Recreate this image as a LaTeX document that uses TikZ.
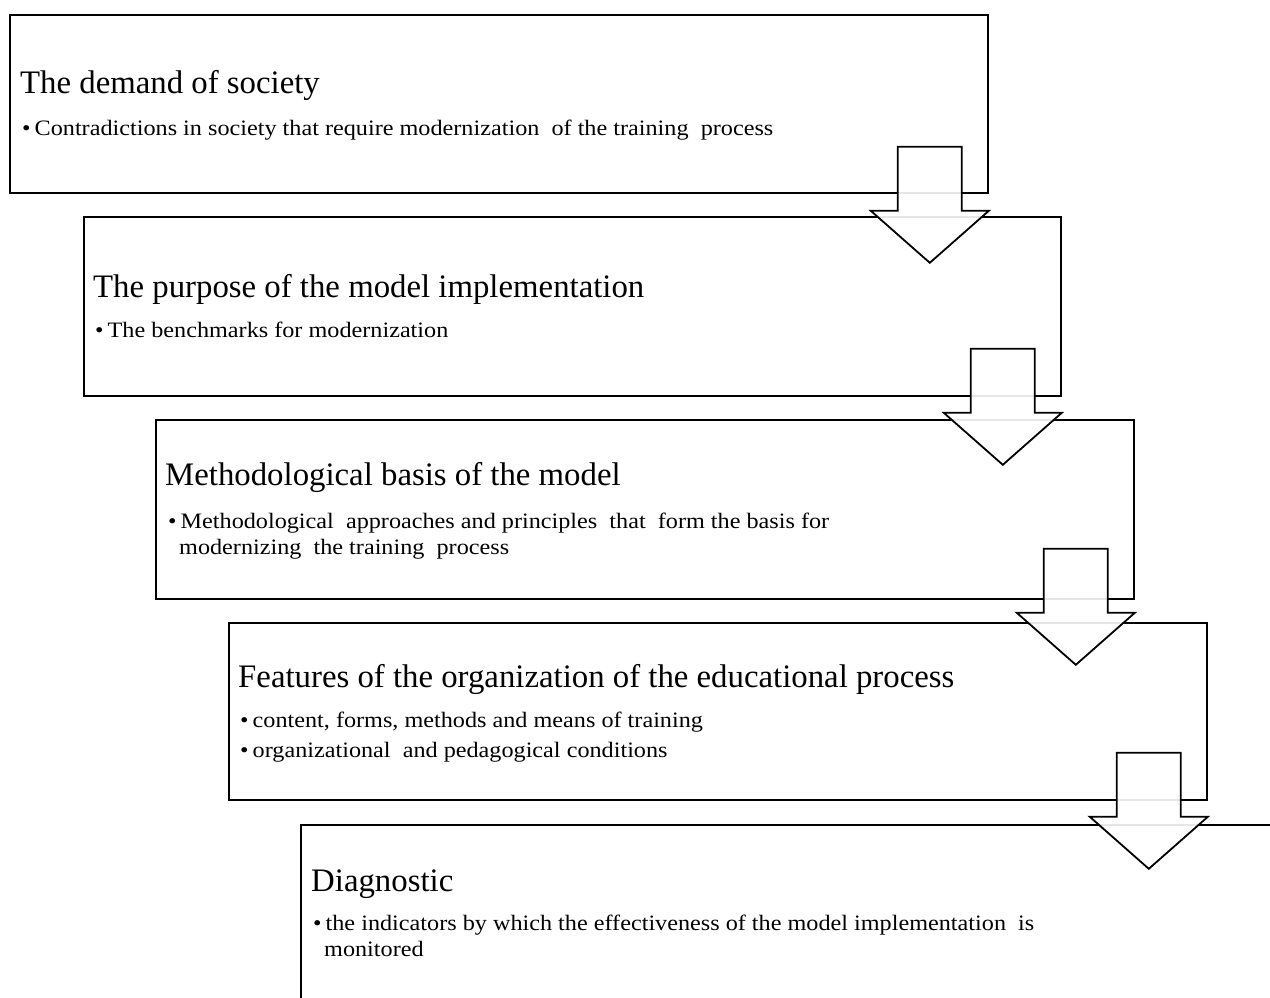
\documentclass[tikz,border=0pt]{standalone}
\usepackage{fontspec}
\setmainfont{Liberation Serif}
\newfontfamily\itmfont[FakeStretch=1.1]{Liberation Serif}
\usetikzlibrary{calc}
\newcommand\myblockarrow[1]{%
  \draw[blockarrow] ($(#1)+(-32,0)$) -- ++(64,0) -- ++(0,64) -- ++(27,0)
    -- ($(#1)+(0,116)$) -- ($(#1)+(-59,64)$) -- ++(27,0) -- cycle;}
\begin{document}
\begin{tikzpicture}[x=1pt,y=-1pt,
  box/.style={draw=black, line width=1.8pt, fill=white, anchor=north west, inner sep=0pt},
  ttl/.style={anchor=base west, inner sep=0pt, font=\fontsize{32.8}{38}\selectfont},
  itm/.style={anchor=base west, inner sep=0pt, font=\itmfont\fontsize{22}{26}\selectfont, align=left},
  blockarrow/.style={draw=black, line width=1.8pt, fill=white, fill opacity=0.9, line join=miter}]
\useasboundingbox (0,0) rectangle (1270,997);
\clip (0,0) rectangle (1270,997);
% boxes
\node[box, minimum width=978pt, minimum height=178pt] (b1) at (9,14) {};
\node[box, minimum width=977pt, minimum height=179pt] (b2) at (83,216) {};
\node[box, minimum width=978pt, minimum height=179pt] (b3) at (155,419) {};
\node[box, minimum width=978pt, minimum height=177pt] (b4) at (228,622) {};
\node[box, minimum width=1000pt, minimum height=220pt] (b5) at (300,824) {};
% texts
\node[ttl] (t1) at (20,93) {The demand of society};
\node[itm] (i1) at (22,135) {\textbullet\hspace{4pt}Contradictions in society that require modernization\ \ of the training\ \ process};
\node[ttl] (t2) at (93,297) {The purpose of the model implementation};
\node[itm] (i2) at (95,337) {\textbullet\hspace{4pt}The benchmarks for modernization};
\node[ttl] (t3) at (165,485) {Methodological basis of the model};
\node[itm] (i3) at (168,554) {\textbullet\hspace{4pt}Methodological\ \ approaches and principles\ \ that\ \ form the basis for\\\hspace*{11pt}modernizing\ \ the training\ \ process};
\node[ttl] (t4) at (238,687) {Features of the organization of the educational process};
\node[itm] (i4a) at (240,727) {\textbullet\hspace{4pt}content, forms, methods and means of training};
\node[itm] (i4b) at (240,757) {\textbullet\hspace{4pt}organizational\ \ and pedagogical conditions};
\node[ttl] (t5) at (311,891) {Diagnostic};
\node[itm] (i5) at (313,956) {\textbullet\hspace{4pt}the indicators by which the effectiveness of the model implementation\ \ is\\\hspace*{11pt}monitored};
% arrows
\coordinate (a1) at ($(b1.south east)+(-59,-47)$);
\coordinate (a2) at ($(b2.south east)+(-59,-48)$);
\coordinate (a3) at ($(b3.south east)+(-59,-51)$);
\coordinate (a4) at ($(b4.south east)+(-59,-48)$);
\myblockarrow{a1}
\myblockarrow{a2}
\myblockarrow{a3}
\myblockarrow{a4}
\end{tikzpicture}
\end{document}
